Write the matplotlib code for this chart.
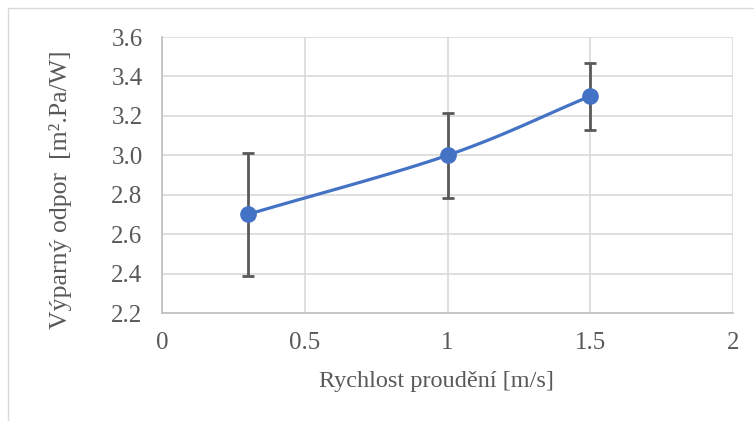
import numpy as np
import matplotlib
matplotlib.use("Agg")
import matplotlib.pyplot as plt
from matplotlib.patches import Rectangle

# ── Data ──────────────────────────────────────────────────────────────────────
speed = [0.3, 1.0, 1.5]          # m/s
resist = [2.70, 3.00, 3.30]      # m².Pa/W
resist_err = [0.31, 0.216, 0.17]

x_ticks = [0, 0.5, 1, 1.5, 2]
y_ticks = [2.2, 2.4, 2.6, 2.8, 3.0, 3.2, 3.4, 3.6]

C_LINE = "#4472C4"
C_TEXT = "#595959"
C_GRID = "#d9d9d9"

plt.rcParams["font.family"] = ["Liberation Serif", "DejaVu Serif"]


def smooth(xs, ys, n=40):
    # Excel-like smoothed line: Catmull-Rom through the points
    xs, ys = np.asarray(xs, float), np.asarray(ys, float)
    px = np.concatenate([[2 * xs[0] - xs[1]], xs, [2 * xs[-1] - xs[-2]]])
    py = np.concatenate([[2 * ys[0] - ys[1]], ys, [2 * ys[-1] - ys[-2]]])
    ox, oy = [], []
    t = np.linspace(0, 1, n)
    for i in range(1, len(px) - 2):
        for p, out in ((px, ox), (py, oy)):
            p0, p1, p2, p3 = p[i - 1], p[i], p[i + 1], p[i + 2]
            out.extend(0.5 * ((2 * p1) + (-p0 + p2) * t
                              + (2 * p0 - 5 * p1 + 4 * p2 - p3) * t ** 2
                              + (-p0 + 3 * p1 - 3 * p2 + p3) * t ** 3))
    return ox, oy


W, H = 754, 421
fig = plt.figure(figsize=(W / 100, H / 100), dpi=100)
ax = fig.add_axes([162 / W, 1 - 313 / H, (733 - 162) / W, (313 - 37) / H])

# chart-area border
fig.patches.append(Rectangle((8 / W, -0.1), 1.1, 1 - 8 / H + 0.1,
                             transform=fig.transFigure, fill=False,
                             edgecolor="#d9d9d9", lw=1))

sx, sy = smooth(speed, resist)
ax.plot(sx, sy, color=C_LINE, lw=2.3, zorder=3, solid_capstyle="round")
ax.errorbar(speed, resist, yerr=resist_err, fmt="none", ecolor=C_TEXT,
            elinewidth=2, capsize=4.3, capthick=2, zorder=2)
ax.plot(speed, resist, "o", color=C_LINE, ms=11, zorder=4)

ax.set_xlim(0, 2)
ax.set_ylim(2.2, 3.6)
ax.set_xticks(x_ticks)
ax.set_xticklabels([f"{v:g}" for v in x_ticks])
ax.set_yticks(y_ticks)
ax.set_yticklabels([f"{v:.1f}" for v in y_ticks])
ax.grid(True, color=C_GRID, lw=1.2)
ax.set_axisbelow(True)
for s in ("top", "right"):
    ax.spines[s].set_visible(False)
for s in ("left", "bottom"):
    ax.spines[s].set_color("#bfbfbf")
    ax.spines[s].set_linewidth(1.2)
ax.tick_params(length=0, labelsize=18, colors=C_TEXT)
ax.tick_params(axis="y", pad=14)
ax.tick_params(axis="x", pad=14)

# axis titles placed like Excel does (centred on the chart area, not the plot)
fig.text(436 / W, 1 - 381 / H, "Rychlost proudění [m/s]", fontsize=17.5,
         color=C_TEXT, ha="center", va="center")
fig.text(61 / W, 1 - 190 / H, "Výparný odpor  [m².Pa/W]", fontsize=18.5,
         color=C_TEXT, ha="center", va="center", rotation=90)

fig.savefig("out.png", dpi=100, facecolor="white")
